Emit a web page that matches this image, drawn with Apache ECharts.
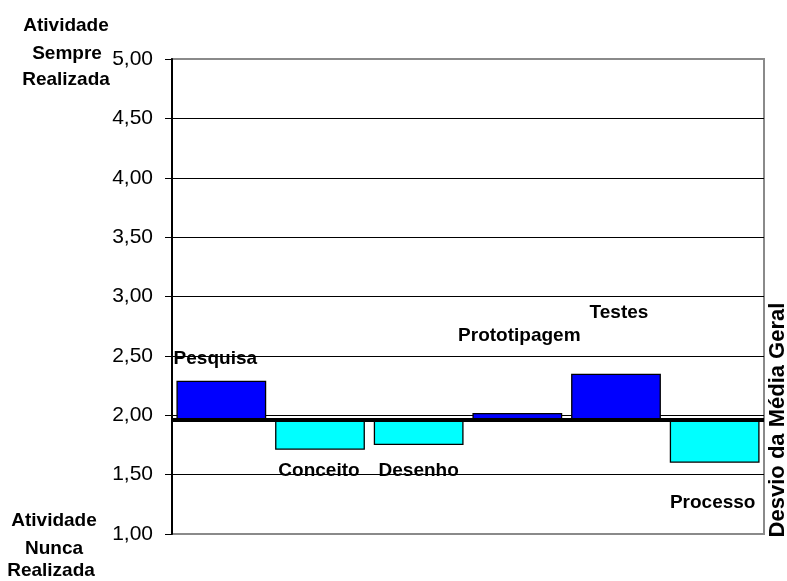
<!DOCTYPE html>
<html>
<head>
<meta charset="utf-8">
<script src="https://cdn.jsdelivr.net/npm/echarts@6/dist/echarts.min.js"></script>
<style>
  html, body { margin: 0; padding: 0; background: #fff; }
  #chart { width: 787px; height: 581px; }
</style>
</head>
<body>
<div id="chart"></div>
<script>
// Activity scores per design phase, against the overall mean
const categories = ['Pesquisa', 'Conceito', 'Desenho', 'Prototipagem', 'Testes', 'Processo'];
const scores = [2.29, 1.71, 1.75, 2.02, 2.35, 1.60];
const overallMean = 1.96;
const axisMin = 1.0;
const axisMax = 5.0;
const axisStep = 0.5;
const topCaption = ['Atividade', 'Sempre', 'Realizada'];
const bottomCaption = ['Atividade', 'Nunca', 'Realizada'];
const sideTitle = 'Desvio da Média Geral';

const FONT = '"Liberation Sans", Arial, sans-serif';

// label nudges [dx, dy] for each category name, relative to the bar end
const labelNudge = [[-6, -12], [-1, 11], [0, 16], [2, -67], [3, -51], [-2, 30]];

// Bars hang off the mean: an invisible base up to the lower end, then the deviation
const baseData = scores.map(v => Math.min(v, overallMean));
const deviationData = scores.map((v, i) => {
  const above = v >= overallMean;
  return {
    value: Math.abs(v - overallMean),
    itemStyle: { color: above ? '#0000FF' : '#00FFFF' },
    label: {
      position: above ? 'top' : 'bottom',
      offset: labelNudge[i]
    }
  };
});

const chart = echarts.init(document.getElementById('chart'), null, { renderer: 'canvas' });

const captionText = (txt, x, y) => ({
  type: 'text', x: x, y: y,
  style: {
    text: txt, font: 'bold 19px ' + FONT, fill: '#000',
    align: 'center', verticalAlign: 'middle'
  }
});

chart.setOption({
  animation: false,
  backgroundColor: '#fff',
  grid: {
    left: 172, right: 23, top: 59, bottom: 47,
    show: true, borderColor: '#8a8a8a', borderWidth: 2, backgroundColor: 'transparent'
  },
  xAxis: {
    type: 'category',
    data: categories,
    axisLine: { show: false },
    axisTick: { show: false },
    axisLabel: { show: false },
    splitLine: { show: false }
  },
  yAxis: {
    type: 'value',
    min: axisMin, max: axisMax, interval: axisStep,
    axisLine: { show: true, lineStyle: { color: '#000', width: 2 } },
    axisTick: { show: true, length: 7, lineStyle: { color: '#000', width: 1 } },
    axisLabel: {
      margin: 19,
      fontSize: 21, fontFamily: FONT, color: '#000',
      formatter: v => v.toFixed(2).replace('.', ',')
    },
    splitLine: {
      show: true, showMinLine: false, showMaxLine: false,
      lineStyle: { color: '#000', width: 1 }
    }
  },
  series: [
    {
      type: 'bar',
      stack: 'dev',
      data: baseData,
      barCategoryGap: '9%',
      itemStyle: { color: 'transparent' },
      silent: true
    },
    {
      type: 'bar',
      stack: 'dev',
      data: deviationData,
      barCategoryGap: '9%',
      itemStyle: { borderColor: '#000', borderWidth: 1.3 },
      label: {
        show: true,
        distance: 0,
        formatter: p => categories[p.dataIndex],
        fontFamily: FONT, fontWeight: 'bold', fontSize: 19, color: '#000',
        lineHeight: 20
      },
      markLine: {
        silent: true,
        symbol: 'none',
        label: { show: false },
        lineStyle: { color: '#000', width: 4, type: 'solid' },
        data: [{ yAxis: overallMean }]
      },
      z: 3
    }
  ],
  graphic: [
    captionText(topCaption[0], 66, 26),
    captionText(topCaption[1], 67, 54),
    captionText(topCaption[2], 66, 80),
    captionText(bottomCaption[0], 54, 521),
    captionText(bottomCaption[1], 54, 549),
    captionText(bottomCaption[2], 51, 571),
    {
      type: 'text', x: 778, y: 420, rotation: Math.PI / 2,
      style: {
        text: sideTitle, font: 'bold 22px ' + FONT, fill: '#000',
        align: 'center', verticalAlign: 'middle'
      }
    }
  ]
});
</script>
</body>
</html>
